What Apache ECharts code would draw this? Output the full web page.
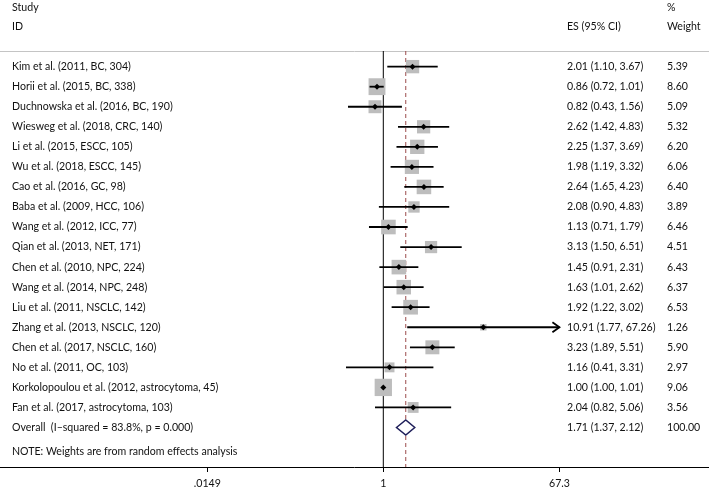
<!DOCTYPE html>
<html>
<head>
<meta charset="utf-8">
<script src="https://cdn.jsdelivr.net/npm/echarts@6/dist/echarts.min.js"></script>
<style>
  html, body { margin: 0; padding: 0; background: #fff; }
  #chart { width: 709px; height: 491px; }
</style>
</head>
<body>
<div id="chart"></div>
<script>
// ---------------- data ----------------
const studies = [
  'Kim et al. (2011, BC, 304)',
  'Horii et al. (2015, BC, 338)',
  'Duchnowska et al. (2016, BC, 190)',
  'Wiesweg et al. (2018, CRC, 140)',
  'Li et al. (2015, ESCC, 105)',
  'Wu et al. (2018, ESCC, 145)',
  'Cao et al. (2016, GC, 98)',
  'Baba et al. (2009, HCC, 106)',
  'Wang et al. (2012, ICC, 77)',
  'Qian et al. (2013, NET, 171)',
  'Chen et al. (2010, NPC, 224)',
  'Wang et al. (2014, NPC, 248)',
  'Liu et al. (2011, NSCLC, 142)',
  'Zhang et al. (2013, NSCLC, 120)',
  'Chen et al. (2017, NSCLC, 160)',
  'No et al. (2011, OC, 103)',
  'Korkolopoulou et al. (2012, astrocytoma, 45)',
  'Fan et al. (2017, astrocytoma, 103)'
];
const es      = [2.01, 0.86, 0.82, 2.62, 2.25, 1.98, 2.64, 2.08, 1.13, 3.13, 1.45, 1.63, 1.92, 10.91, 3.23, 1.16, 1.00, 2.04];
const ciLow   = [1.10, 0.72, 0.43, 1.42, 1.37, 1.19, 1.65, 0.90, 0.71, 1.50, 0.91, 1.01, 1.22, 1.77, 1.89, 0.41, 1.00, 0.82];
const ciHigh  = [3.67, 1.01, 1.56, 4.83, 3.69, 3.32, 4.23, 4.83, 1.79, 6.51, 2.31, 2.62, 3.02, 67.26, 5.51, 3.31, 1.01, 5.06];
const weights = [5.39, 8.60, 5.09, 5.32, 6.20, 6.06, 6.40, 3.89, 6.46, 4.51, 6.43, 6.37, 6.53, 1.26, 5.90, 2.97, 9.06, 3.56];

const overallLabel = ['Overall  (I\u2013squared = 83.8%, p = 0.000)'];
const overallES    = [1.71];
const overallLow   = [1.37];
const overallHigh  = [2.12];
const overallWeight = [100.00];

const tickValues = [0.0149, 1, 67.3];
const tickLabels = ['.0149', '1', '67.3'];

const headerLeft  = ['Study', 'ID'];
const headerES    = ['ES (95% CI)'];
const headerW     = ['%', 'Weight'];
const noteText    = ['NOTE: Weights are from random effects analysis'];

// ---------------- layout / style ----------------
const FONT = 'Lato';
const FS = 10.6;
const TXT = '#111111';
const X_MIN = -3.978, X_MAX = 3.380;     // log10 extent of the plot
const COL_NAME = 12, COL_ES = 567, COL_W = 667;
const BOX_SCALE = 5.75;
const nRows = studies.length;
const overallRow = nRows;
const arrowAt = tickValues[tickValues.length - 1] * 0.99;

const log10 = Math.log10;
const fmt = v => v.toFixed(2);

const studyData = studies.map((s, i) => [i, log10(es[i]), log10(ciLow[i]), log10(ciHigh[i]), weights[i]]);
const textRows = studies.map((s, i) => ({
  value: [i, 0], name: s,
  esText: fmt(es[i]) + ' (' + fmt(ciLow[i]) + ', ' + fmt(ciHigh[i]) + ')',
  wText: fmt(weights[i])
}));
textRows.push({
  value: [overallRow, 0], name: overallLabel[0],
  esText: fmt(overallES[0]) + ' (' + fmt(overallLow[0]) + ', ' + fmt(overallHigh[0]) + ')',
  wText: fmt(overallWeight[0])
});

const chart = echarts.init(document.getElementById('chart'), null, { renderer: 'canvas' });

function txt(x, y, s) {
  return { type: 'text', style: { x: x, y: y, text: s, fill: TXT, font: FS + 'px "' + FONT + '"', textVerticalAlign: 'middle', verticalAlign: 'middle' } };
}

const option = {
  animation: false,
  backgroundColor: '#fff',
  grid: { left: 0, right: 0, top: 51, bottom: 24, containLabel: false },
  xAxis: [
    {
      type: 'value', min: X_MIN, max: X_MAX, position: 'bottom',
      axisLine: { show: true, onZero: false, lineStyle: { color: '#000', width: 1 } },
      axisTick: { show: true, length: 5, customValues: tickValues.map(log10), lineStyle: { color: '#000' } },
      axisLabel: {
        show: true, margin: 11, color: TXT, fontFamily: FONT, fontSize: FS,
        customValues: tickValues.map(log10),
        formatter: function (v) {
          let best = 0, bd = Infinity;
          tickValues.forEach((t, k) => { const d = Math.abs(log10(t) - v); if (d < bd) { bd = d; best = k; } });
          return tickLabels[best];
        }
      },
      splitLine: { show: false }
    },
    {
      type: 'value', min: X_MIN, max: X_MAX, position: 'top',
      axisLine: { show: true, onZero: false, lineStyle: { color: '#c4c4c4', width: 1 } },
      axisTick: { show: false }, axisLabel: { show: false }, splitLine: { show: false }
    }
  ],
  yAxis: {
    type: 'value', inverse: true, min: -0.78, max: 19.97, show: false
  },
  graphic: [
    txt(COL_NAME, 8, headerLeft[0]),
    txt(COL_NAME, 27, headerLeft[1]),
    txt(COL_ES, 27, headerES[0]),
    txt(COL_W, 8, headerW[0]),
    txt(COL_W, 27, headerW[1]),
    txt(COL_NAME, 452, noteText[0])
  ],
  series: [
    {
      // reference lines (null effect and pooled estimate)
      type: 'custom', xAxisIndex: 0, z: 1, clip: false,
      data: [[0, 0]],
      renderItem: function (params, api) {
        const top = api.coord([0, -0.78])[1], bot = api.coord([0, 19.97])[1];
        const x0 = api.coord([log10(1), 0])[0];
        const xp = api.coord([log10(overallES[0]), 0])[0];
        return { type: 'group', children: [
          { type: 'line', shape: { x1: x0, y1: top, x2: x0, y2: bot }, style: { stroke: '#000', lineWidth: 1 } },
          { type: 'line', shape: { x1: xp, y1: top, x2: xp, y2: bot }, style: { stroke: '#9b4b4b', lineWidth: 1, lineDash: [4, 3] } }
        ] };
      }
    },
    {
      type: 'custom', xAxisIndex: 0, z: 3, clip: false,
      encode: { x: [1, 2, 3], y: 0 },
      data: studyData,
      renderItem: function (params, api) {
        const i = api.value(0);
        const pE = api.coord([api.value(1), i]);
        const pL = api.coord([api.value(2), i]);
        const pH = api.coord([api.value(3), i]);
        const s = BOX_SCALE * Math.sqrt(api.value(4));
        const y = pE[1];
        const ch = [
          { type: 'rect', shape: { x: pE[0] - s / 2, y: y - s / 2, width: s, height: s }, style: { fill: '#bdbdbd' } },
          { type: 'line', shape: { x1: pL[0], y1: y, x2: pH[0], y2: y }, style: { stroke: '#000', lineWidth: 1.8 } },
          { type: 'polygon', shape: { points: [[pE[0] - 3, y], [pE[0], y - 3], [pE[0] + 3, y], [pE[0], y + 3]] }, style: { fill: '#000' } }
        ];
        if (ciHigh[params.dataIndex] >= arrowAt) {
          ch.push({ type: 'polyline', shape: { points: [[pH[0] - 7, y - 5], [pH[0], y], [pH[0] - 7, y + 5]] }, style: { stroke: '#000', lineWidth: 1.8, fill: null } });
        }
        return { type: 'group', children: ch };
      }
    },
    {
      // pooled diamond
      type: 'custom', xAxisIndex: 0, z: 3, clip: false,
      encode: { x: [1, 2, 3], y: 0 },
      data: [[overallRow, log10(overallES[0]), log10(overallLow[0]), log10(overallHigh[0])]],
      renderItem: function (params, api) {
        const r = api.value(0);
        const pE = api.coord([api.value(1), r]);
        const pL = api.coord([api.value(2), r]);
        const pH = api.coord([api.value(3), r]);
        const h = 7.5;
        return { type: 'polygon', shape: { points: [[pL[0], pE[1]], [pE[0], pE[1] - h], [pH[0], pE[1]], [pE[0], pE[1] + h]] },
          style: { fill: '#fff', stroke: '#1f1f5a', lineWidth: 1.5 } };
      }
    },
    {
      // table text
      type: 'custom', xAxisIndex: 0, z: 4, clip: false,
      encode: { y: 0 },
      data: textRows,
      renderItem: function (params, api) {
        const row = textRows[params.dataIndex];
        const y = api.coord([0, api.value(0)])[1];
        return { type: 'group', children: [
          txt(COL_NAME, y, row.name),
          txt(COL_ES, y, row.esText),
          txt(COL_W, y, row.wText)
        ] };
      }
    }
  ]
};
chart.setOption(option);
</script>
</body>
</html>
